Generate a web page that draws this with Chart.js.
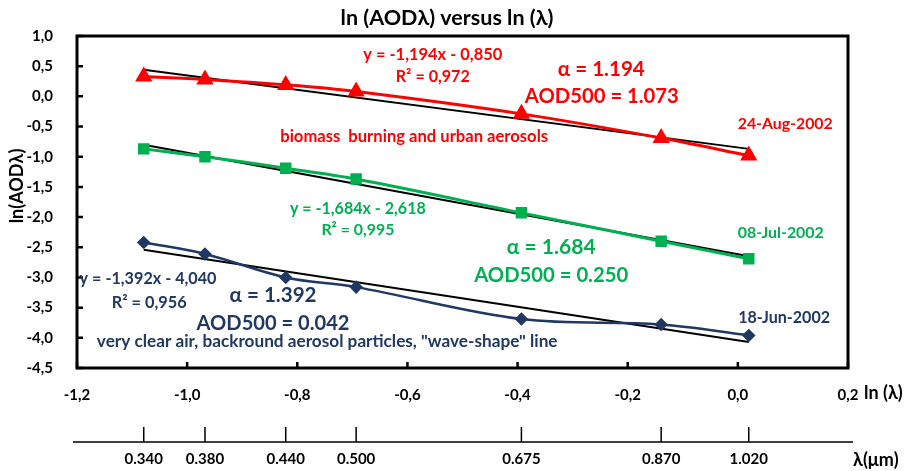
<!DOCTYPE html>
<html>
<head>
<meta charset="utf-8">
<script src="https://cdn.jsdelivr.net/npm/chart.js@4/dist/chart.umd.min.js"></script>
<style>
  html, body { margin: 0; padding: 0; background: #fff; }
  #wrap { width: 911px; height: 471px; }
</style>
</head>
<body>
<div id="wrap"><canvas id="aodChart" width="911" height="471"></canvas></div>
<script>
// wavelengths (um) and the ln of them used on the x axis
var lambdaTicks = [0.340, 0.380, 0.440, 0.500, 0.675, 0.870, 1.020];
var lambdaLabels = ['0.340', '0.380', '0.440', '0.500', '0.675', '0.870', '1.020'];
var lnLambda = lambdaTicks.map(function(l) { return Math.log(l); });

// ln(AOD) for each day
var aug24 = [0.33, 0.28, 0.19, 0.08, -0.29, -0.69, -0.98];
var jul08 = [-0.87, -1.00, -1.19, -1.37, -1.93, -2.40, -2.69];
var jun18 = [-2.42, -2.61, -3.00, -3.16, -3.69, -3.78, -3.96];

// linear trend lines, value at first and last wavelength
var augTrend = [0.44, -0.87];
var julTrend = [-0.80, -2.65];
var junTrend = [-2.54, -4.07];

var xTicks = [-1.2, -1.0, -0.8, -0.6, -0.4, -0.2, 0.0, 0.2];
var yTicks = [1.0, 0.5, 0.0, -0.5, -1.0, -1.5, -2.0, -2.5, -3.0, -3.5, -4.0, -4.5];

var RED = '#FF0000', GREEN = '#00B050', NAVY = '#1F3864';
var FONT = 'Lato, "Open Sans", sans-serif';

function pts(ys) {
    return ys.map(function(y, i) { return { x: lnLambda[i], y: y }; });
}
function trend(ys) {
    return [{ x: lnLambda[0], y: ys[0] }, { x: lnLambda[lnLambda.length - 1], y: ys[1] }];
}
function comma(v) {
    if (Math.abs(v) < 1e-9) v = 0;
    return v.toFixed(1).replace('.', ',');
}

// text notes: text, x, y (data units), font size, colour, align, width
var notes = [
    ['y = -1,194x - 0,850', -0.554, 0.693, 15, RED, 'center', 139],
    ['R\u00b2 = 0,972', -0.554, 0.327, 15, RED, 'center', 74],
    ['\u03b1 = 1.194', -0.248, 0.443, 22, RED, 'center', 87],
    ['AOD500 = 1.073', -0.247, -0.005, 22, RED, 'center', 154],
    ['24-Aug-2002', 0.086, -0.454, 16, RED, 'center', 95],
    ['biomass  burning and urban aerosols', -0.831, -0.670, 16, RED, 'left', 268],
    ['y = -1,684x - 2,618', -0.690, -1.866, 15, GREEN, 'center', 136],
    ['R\u00b2 = 0,995', -0.690, -2.215, 15, GREEN, 'center', 73],
    ['\u03b1 = 1.684', -0.339, -2.498, 22, GREEN, 'center', 89],
    ['AOD500 = 0.250', -0.339, -2.963, 22, GREEN, 'center', 154],
    ['08-Jul-2002', 0.078, -2.265, 16, GREEN, 'center', 86],
    ['18-Jun-2002', 0.084, -3.661, 16, NAVY, 'center', 92],
    ['y = -1,392x - 4,040', -1.071, -3.029, 15, NAVY, 'center', 137],
    ['R\u00b2 = 0,956', -1.069, -3.412, 15, NAVY, 'center', 75],
    ['\u03b1 = 1.392', -0.844, -3.295, 23, NAVY, 'center', 87],
    ['AOD500 = 0.042', -0.844, -3.760, 23, NAVY, 'center', 153],
    ['very clear air, backround aerosol particles, "wave-shape" line', -1.164, -4.060, 16, NAVY, 'left', 461]
];

// draws bold text; with a width given the font is sized so the text fills it
function txt(ctx, s, x, y, size, color, align, w) {
    ctx.save();
    ctx.font = 'bold ' + size + 'px ' + FONT;
    if (w) {
        var m = ctx.measureText(s).width;
        size = Math.min(size * 1.25, size * w / m);
        ctx.font = 'bold ' + size.toFixed(2) + 'px ' + FONT;
    }
    ctx.fillStyle = color;
    ctx.textAlign = align;
    ctx.textBaseline = 'middle';
    if (w) ctx.fillText(s, x, y, w); else ctx.fillText(s, x, y);
    ctx.restore();
}

var decor = {
    id: 'decor',
    afterDraw: function(chart) {
        var ctx = chart.ctx, a = chart.chartArea;
        var xs = chart.scales.x, ys = chart.scales.y;
        ctx.save();
        ctx.strokeStyle = '#000';
        // frame
        ctx.lineWidth = 3;
        ctx.strokeRect(a.left, a.top, a.right - a.left, a.bottom - a.top);
        // inner tick marks
        ctx.lineWidth = 2.5;
        ctx.beginPath();
        yTicks.forEach(function(v) {
            var p = ys.getPixelForValue(v);
            ctx.moveTo(a.left, p); ctx.lineTo(a.left + 6, p);
        });
        xTicks.forEach(function(v) {
            var p = xs.getPixelForValue(v);
            ctx.moveTo(p, a.bottom); ctx.lineTo(p, a.bottom - 6);
        });
        ctx.stroke();

        // wavelength axis
        var ly = 442;
        ctx.lineWidth = 1.5;
        ctx.beginPath();
        ctx.moveTo(a.left - 4, ly); ctx.lineTo(a.right + 5, ly);
        lnLambda.forEach(function(v) {
            var p = xs.getPixelForValue(v);
            ctx.moveTo(p, ly); ctx.lineTo(p, ly - 15);
        });
        ctx.stroke();
        ctx.restore();
        lnLambda.forEach(function(v, i) {
            txt(ctx, lambdaLabels[i], xs.getPixelForValue(v), 459, 15, '#000', 'center');
        });
        txt(ctx, '\u03bb(\u03bcm)', 853, 460, 18, '#000', 'left');

        // titles
        txt(ctx, 'ln (AOD\u03bb) versus ln (\u03bb)', 447, 18, 19, '#000', 'center', 213);
        txt(ctx, 'ln (\u03bb)', 864, 393, 18, '#000', 'left');
        ctx.save();
        ctx.translate(17, 186);
        ctx.rotate(-Math.PI / 2);
        txt(ctx, 'ln(AOD\u03bb)', 0, 0, 18, '#000', 'center');
        ctx.restore();

        notes.forEach(function(n) {
            txt(ctx, n[0], xs.getPixelForValue(n[1]), ys.getPixelForValue(n[2]), n[3], n[4], n[5], n[6]);
        });
    }
};

var ctx = document.getElementById('aodChart').getContext('2d');
var aodChart = new Chart(ctx, {
    type: 'line',
    data: {
        datasets: [{
            label: '24-Aug-2002',
            data: pts(aug24),
            borderColor: RED,
            backgroundColor: RED,
            borderWidth: 3,
            pointStyle: 'triangle',
            pointRadius: 7,
            tension: 0.35
        }, {
            label: '08-Jul-2002',
            data: pts(jul08),
            borderColor: GREEN,
            backgroundColor: GREEN,
            borderWidth: 3,
            pointStyle: 'rect',
            pointRadius: 6,
            tension: 0.35
        }, {
            label: '18-Jun-2002',
            data: pts(jun18),
            borderColor: NAVY,
            backgroundColor: NAVY,
            borderWidth: 2.5,
            pointStyle: 'rectRot',
            pointRadius: 5,
            tension: 0.35
        }, {
            label: 'trend 24-Aug',
            data: trend(augTrend),
            borderColor: '#000',
            borderWidth: 2,
            pointRadius: 0
        }, {
            label: 'trend 08-Jul',
            data: trend(julTrend),
            borderColor: '#000',
            borderWidth: 2,
            pointRadius: 0
        }, {
            label: 'trend 18-Jun',
            data: trend(junTrend),
            borderColor: '#000',
            borderWidth: 2,
            pointRadius: 0
        }]
    },
    options: {
        responsive: false,
        animation: false,
        layout: {
            padding: { top: 36, right: 63, bottom: 0, left: 0 }
        },
        plugins: {
            legend: { display: false },
            tooltip: { enabled: false },
            title: { display: false }
        },
        scales: {
            x: {
                type: 'linear',
                min: -1.2,
                max: 0.2,
                grid: { display: false },
                border: { display: false },
                afterFit: function(s) { s.height = 103; },
                afterBuildTicks: function(s) {
                    s.ticks = xTicks.map(function(v) { return { value: v }; });
                },
                ticks: {
                    autoSkip: false,
                    maxRotation: 0,
                    padding: 10,
                    color: '#000',
                    font: { family: FONT, size: 15, weight: 'bold' },
                    callback: function(v) { return comma(v); }
                }
            },
            y: {
                min: -4.5,
                max: 1.0,
                grid: { display: false },
                border: { display: false },
                afterFit: function(s) { s.width = 77; },
                afterBuildTicks: function(s) {
                    s.ticks = yTicks.map(function(v) { return { value: v }; });
                },
                ticks: {
                    autoSkip: false,
                    padding: 16,
                    color: '#000',
                    font: { family: FONT, size: 15, weight: 'bold' },
                    callback: function(v) { return comma(v); }
                }
            }
        }
    },
    plugins: [decor]
});
</script>
</body>
</html>
